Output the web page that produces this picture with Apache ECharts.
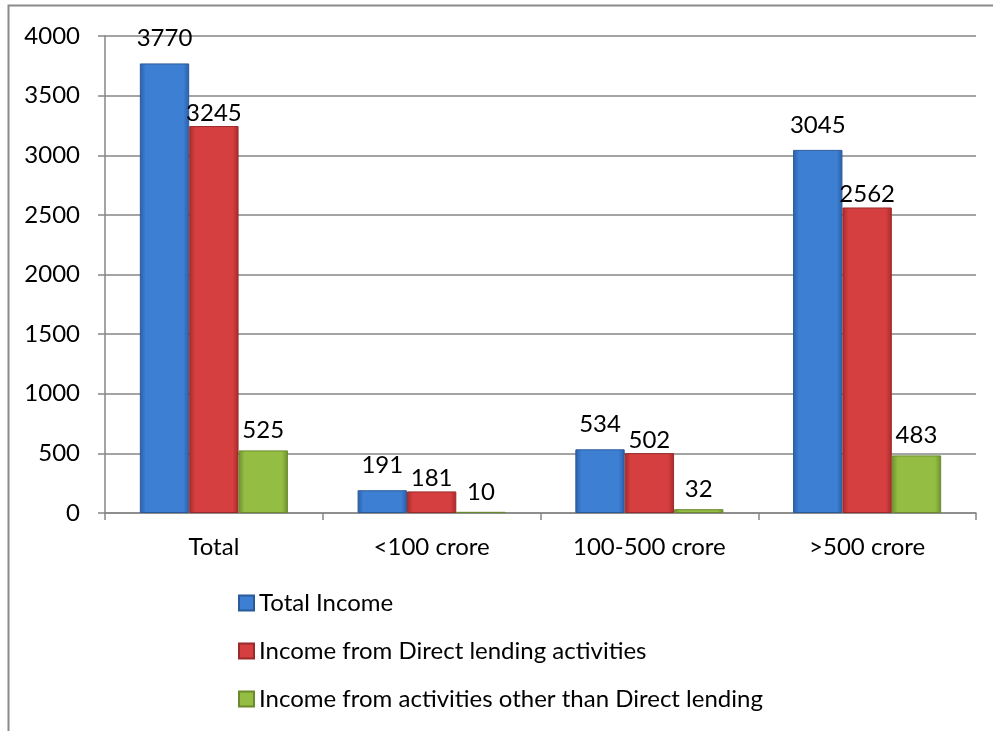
<!DOCTYPE html>
<html>
<head>
<meta charset="utf-8">
<script src="https://cdn.jsdelivr.net/npm/echarts@6/dist/echarts.min.js"></script>
<style>
  html, body { margin: 0; padding: 0; background: #fff; }
  #chart { width: 993px; height: 731px; }
</style>
</head>
<body>
<div id="chart"></div>
<script>
// Income by size group (categories and series values)
const categories = ['Total', '<100 crore', '100-500 crore', '>500 crore'];
const totalIncome = [3770, 191, 534, 3045];
const directLending = [3245, 181, 502, 2562];
const otherActivities = [525, 10, 32, 483];
const yTicks = [0, 500, 1000, 1500, 2000, 2500, 3000, 3500, 4000];

const FONT = 'Lato, "Noto Sans", sans-serif';
const FS = 24;

function shade(edge, mid) {
  return {
    type: 'linear', x: 0, y: 0, x2: 1, y2: 0,
    colorStops: [
      { offset: 0, color: edge },
      { offset: 0.12, color: mid },
      { offset: 0.88, color: mid },
      { offset: 1, color: edge }
    ]
  };
}

function barSeries(name, data, edge, mid, border, labelGap) {
  return {
    name: name,
    type: 'bar',
    data: data,
    barGap: '0%',
    barCategoryGap: '32%',
    itemStyle: { color: shade(edge, mid), borderColor: border, borderWidth: 1 },
    label: {
      show: true,
      position: 'top',
      distance: labelGap,
      color: '#000',
      fontSize: FS,
      fontFamily: FONT
    }
  };
}

const chart = echarts.init(document.getElementById('chart'));
chart.setOption({
  backgroundColor: '#fff',
  animation: false,
  graphic: [{
    type: 'rect',
    shape: { x: 8.5, y: 5.5, width: 1000, height: 800 },
    style: { fill: 'none', stroke: '#8a8a8a', lineWidth: 2 },
    silent: true
  }],
  grid: { left: 105, right: 17, top: 36, bottom: 218, containLabel: false },
  xAxis: {
    type: 'category',
    data: categories,
    axisLine: { lineStyle: { color: '#868686', width: 1.5 } },
    axisTick: { show: true, length: 7, lineStyle: { color: '#868686', width: 1.5 } },
    axisLabel: { color: '#000', fontSize: FS, fontFamily: FONT, margin: 22 }
  },
  yAxis: {
    type: 'value',
    min: yTicks[0],
    max: yTicks[yTicks.length - 1],
    interval: yTicks[1] - yTicks[0],
    axisLine: { show: true, lineStyle: { color: '#868686', width: 1.5 } },
    axisTick: { show: true, length: 7, lineStyle: { color: '#868686', width: 1.5 } },
    splitLine: { lineStyle: { color: '#868686', width: 1.5 } },
    axisLabel: {
      color: '#000', fontSize: FS, fontFamily: FONT, margin: 25,
      formatter: function (v) { return String(v); }
    }
  },
  legend: {
    orient: 'vertical',
    left: 238,
    top: 590,
    padding: 0,
    itemWidth: 15,
    itemHeight: 15,
    itemGap: 22,
    icon: 'rect',
    textStyle: { color: '#000', fontSize: FS, fontFamily: FONT, lineHeight: 26, padding: [0, 0, 0, 0] },
    data: ['Total Income', 'Income from Direct lending activities', 'Income from activities other than Direct lending']
  },
  series: [
    barSeries('Total Income', totalIncome, '#2a5fa8', '#3d7fd3', '#2b5a98', 13),
    barSeries('Income from Direct lending activities', directLending, '#a82a2a', '#d63f3f', '#9a2a2a', 1),
    barSeries('Income from activities other than Direct lending', otherActivities, '#6f8f2e', '#93bd43', '#6a8a2c', 8)
  ]
});
</script>
</body>
</html>
